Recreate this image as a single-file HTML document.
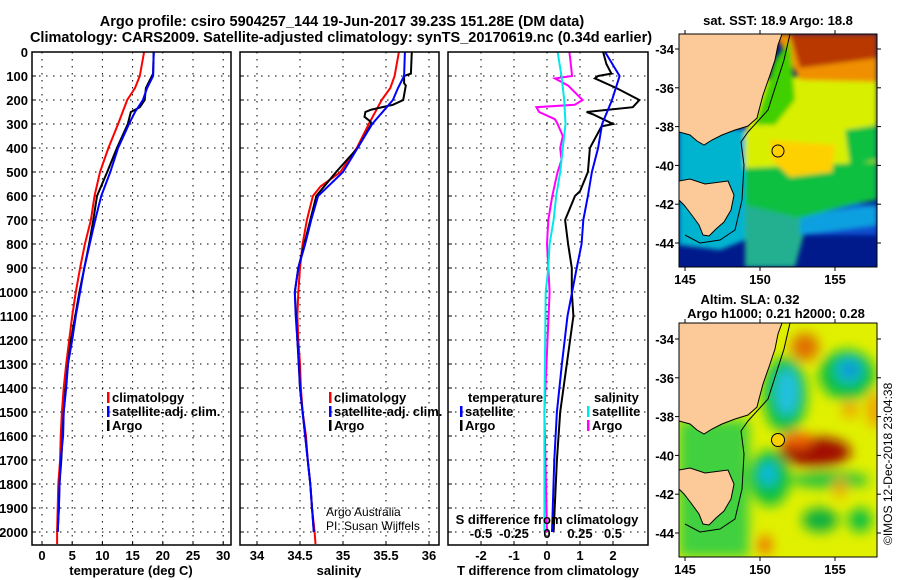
<!DOCTYPE html>
<html><head><meta charset="utf-8">
<style>
html,body{margin:0;padding:0;background:#fff;width:900px;height:580px;overflow:hidden}
svg text{font-family:"Liberation Sans",sans-serif;font-weight:bold;font-size:13px;fill:#000}
.t{font-size:14px}
.thin{font-weight:normal}
</style></head><body>
<svg id="chart" width="900" height="580" viewBox="0 0 900 580" xmlns="http://www.w3.org/2000/svg">
<defs>
<clipPath id="c1"><rect x="32" y="52" width="199" height="493"/></clipPath>
<clipPath id="c2"><rect x="240" y="52" width="199" height="493"/></clipPath>
<clipPath id="c3"><rect x="448" y="52" width="200" height="493"/></clipPath>
<clipPath id="m1"><rect x="679" y="34" width="198" height="233"/></clipPath>
<clipPath id="m2"><rect x="679" y="323" width="198" height="234"/></clipPath>
<filter id="bl" x="-50%" y="-50%" width="200%" height="200%"><feGaussianBlur stdDeviation="6"/></filter>
<filter id="bl2" x="-20%" y="-20%" width="140%" height="140%"><feGaussianBlur stdDeviation="2.5"/></filter>
</defs>
<text class="t" x="342" y="26" text-anchor="middle" style="font-size:14.5px">Argo profile: csiro 5904257_144 19-Jun-2017 39.23S 151.28E (DM data)</text>
<text class="t" x="341" y="42" text-anchor="middle" style="font-size:14.5px">Climatology: CARS2009. Satellite-adjusted climatology: synTS_20170619.nc (0.34d earlier)</text>
<g id="grids"></g>
<g id="series"></g>
<g id="axes"></g>

<!-- SST map -->
<text x="778" y="25" text-anchor="middle">sat. SST: 18.9 Argo: 18.8</text>
<g clip-path="url(#m1)">
<rect x="679" y="34" width="198" height="233" fill="#001a8c"/>
<g filter="url(#bl2)">
<polygon points="679,195 877,205 877,235 679,235" fill="#0a50d0"/>
<polygon points="679,125 748,130 745,240 720,250 679,245" fill="#00b4d0"/>
<polygon points="745,195 800,212 805,230 795,267 745,267" fill="#20b090"/>
<polygon points="800,215 877,205 877,225 800,235" fill="#10a0e0"/>
<polygon points="745,165 877,160 877,200 850,205 800,218 745,205" fill="#10c040"/>
<polygon points="755,80 877,70 877,162 745,168 745,135" fill="#d8f000"/>
<polygon points="770,140 835,145 832,172 790,177 772,160" fill="#ffd000"/>
<polygon points="775,34 877,34 877,82 800,80" fill="#f09000"/>
<polygon points="790,34 877,34 877,58 800,68" fill="#b83800"/>
<polygon points="775,60 790,40 795,100 775,125 755,125" fill="#40d000"/>
<polygon points="845,130 877,125 877,160 850,165" fill="#10c040"/>
</g>
<polygon points="679,34 782,34 778,45 775,60 770,75 763,95 759,110 757,118 748,126 735,130 722,135 712,140 704,145 697,141 690,135 679,132" fill="#fcca98" stroke="#000" stroke-width="1"/>
<polygon points="679,181 690,179 705,184 728,181 734,195 731,210 724,222 716,229 709,236 703,235 699,225 691,214 684,205 679,200" fill="#fcca98" stroke="#000" stroke-width="1"/>
<path d="M790,34 L784,60 L776,85 L768,110 L748,132 L741,142 L744,165 L742,200 L735,230 L720,240 L700,243 L685,235" fill="none" stroke="#000" stroke-width="1"/>
<circle cx="778" cy="151" r="6" fill="none" stroke="#000" stroke-width="1"/>
</g>
<rect x="679" y="34" width="198" height="233" fill="none" stroke="#000"/>
<g id="map1ticks"></g>

<!-- SLA map -->
<text x="750" y="304" text-anchor="middle">Altim. SLA: 0.32</text>
<text x="776" y="318" text-anchor="middle">Argo h1000: 0.21 h2000: 0.28</text>
<g clip-path="url(#m2)">
<rect x="679" y="323" width="198" height="234" fill="#e0f000"/>
<g filter="url(#bl)">
<ellipse cx="805" cy="347" rx="14" ry="14" fill="#e07000"/>
<ellipse cx="785" cy="395" rx="22" ry="38" fill="#10c040"/>
<ellipse cx="787" cy="392" rx="12" ry="24" fill="#20c0e0"/>
<ellipse cx="847" cy="375" rx="28" ry="25" fill="#10c040"/>
<ellipse cx="849" cy="370" rx="13" ry="13" fill="#10b8e0"/>
<ellipse cx="850" cy="370" rx="5" ry="5" fill="#1040c0"/>
<ellipse cx="815" cy="452" rx="36" ry="15" fill="#a00800"/>
<ellipse cx="797" cy="440" rx="16" ry="8" fill="#f06000"/>
<ellipse cx="770" cy="478" rx="20" ry="28" fill="#10c040"/>
<ellipse cx="768" cy="474" rx="9" ry="12" fill="#10b8e0"/>
<ellipse cx="830" cy="480" rx="40" ry="8" fill="#20c040"/>
<ellipse cx="820" cy="520" rx="18" ry="12" fill="#10b040"/>
<ellipse cx="860" cy="520" rx="12" ry="12" fill="#10c040"/>
<ellipse cx="765" cy="545" rx="7" ry="10" fill="#f07000"/>
<rect x="679" y="420" width="70" height="137" fill="#40d040"/>
<ellipse cx="850" cy="410" rx="8" ry="8" fill="#f0a000"/>
<ellipse cx="840" cy="488" rx="6" ry="10" fill="#f0a000"/>
<ellipse cx="875" cy="410" rx="8" ry="18" fill="#f0a000"/>
</g>
<polygon points="679,323 782,323 778,334 775,349 770,364 763,384 759,399 757,407 748,415 735,419 722,424 712,429 704,434 697,430 690,424 679,421" fill="#fcca98" stroke="#000" stroke-width="1"/>
<polygon points="679,470 690,468 705,473 728,470 734,484 731,499 724,511 716,518 709,525 703,524 699,514 691,503 684,494 679,489" fill="#fcca98" stroke="#000" stroke-width="1"/>
<path d="M790,323 L784,349 L776,374 L768,399 L748,421 L741,431 L744,454 L742,489 L735,519 L720,529 L700,532 L685,524" fill="none" stroke="#000" stroke-width="1"/>
<circle cx="778" cy="440" r="6.5" fill="#f8d000" stroke="#000" stroke-width="1"/>
</g>
<rect x="679" y="323" width="198" height="234" fill="none" stroke="#000"/>
<g id="map2ticks"></g>
<text class="thin" x="892" y="545" transform="rotate(-90 892 545)" style="font-size:12px">©IMOS 12-Dec-2018 23:04:38</text>
</svg>
<script>
// ---- data ----
const tClimDepth = [0,100,150,200,300,400,500,600,700,800,900,1000,1100,1200,1300,1400,1500,1600,1700,1800,1900,2000,2050];
const tClim      = [16.9,16.2,15.4,14.1,12.6,11.0,9.6,8.7,8.1,7.1,6.3,5.6,5.0,4.5,4.0,3.6,3.3,3.1,3.0,2.7,2.6,2.5,2.5];
const tSatDepth  = [0,100,150,200,250,300,400,500,600,700,800,900,1000,1100,1200,1300,1400,1500,1600,1700,1800,1900,2000];
const tSat       = [18.5,18.4,17.4,16.7,15.4,14.4,12.6,11.3,9.8,8.8,7.9,7.0,6.3,5.6,5.0,4.3,4.0,3.6,3.5,3.1,2.9,2.8,2.6];
const tArgoDepth = [0,90,100,150,200,230,250,300,400,500,600,700,800,900,1000,1100,1200,1300,1400,1500,1600,1700,1800,1900,2000];
const tArgo      = [18.5,18.4,18.2,17.2,17.0,16.2,14.7,14.2,12.4,10.8,9.1,8.5,7.8,7.0,6.2,5.5,4.8,4.3,3.9,3.6,3.4,3.2,2.9,2.8,2.6];

const sClimDepth = [0,100,150,200,300,400,500,560,600,700,800,900,1000,1100,1200,1300,1400,1500,1600,1700,1800,1900,2000,2050];
const sClim      = [35.65,35.60,35.55,35.45,35.30,35.16,34.97,34.74,34.65,34.58,34.53,34.50,34.48,34.47,34.48,34.50,34.51,34.53,34.57,34.59,34.62,34.64,34.67,34.68];
const sSatDepth  = [0,100,150,200,300,400,500,600,700,800,900,1000,1100,1200,1300,1400,1500,1600,1700,1800,1900,2000];
const sSat       = [35.72,35.71,35.64,35.58,35.34,35.17,35.00,34.71,34.63,34.56,34.48,34.44,34.45,34.47,34.49,34.50,34.53,34.56,34.59,34.62,34.64,34.66];
const sArgoDepth = [0,90,100,130,140,200,220,240,250,270,290,300,400,500,600,700,800,900,1000,1200,1400,1600,1800,2000];
const sArgo      = [35.80,35.79,35.71,35.71,35.73,35.70,35.58,35.33,35.26,35.25,35.32,35.33,35.17,34.92,34.69,34.62,34.55,34.48,34.44,34.47,34.50,34.56,34.62,34.66];

const dTSatDepth = [0,100,200,300,400,500,600,700,800,900,1100,1300,1500,1700,2000];
const dTSat      = [1.76,2.2,1.97,1.67,1.55,1.36,1.24,1.10,1.05,0.90,0.62,0.45,0.30,0.22,0.15];
const dTArgoDepth= [0,50,90,100,110,150,200,230,250,260,280,300,310,400,500,580,600,700,800,900,1000,1100,1200,1300,1500,1700,2000];
const dTArgo     = [1.7,1.8,1.95,1.55,1.45,2.1,2.8,2.6,1.2,1.4,1.7,2.0,1.65,1.3,1.24,1.0,0.85,0.55,0.64,0.75,0.75,0.8,0.7,0.6,0.4,0.3,0.2];
const dSSatDepth = [0,100,200,300,400,500,600,700,800,900,1000,1500,2000];
const dSSat      = [0.08,0.11,0.13,0.14,0.12,0.10,0.07,0.05,0.02,0.01,-0.01,-0.02,-0.02];
const dSArgoDepth= [0,50,100,110,140,200,220,230,250,280,300,350,400,450,500,550,600,700,800,900,1000,1500,2000];
const dSArgo     = [0.17,0.18,0.19,0.06,0.16,0.27,0.21,-0.08,-0.06,0.06,0.08,0.12,0.10,0.11,0.08,0.06,0.04,0.01,0.0,0.01,0.02,-0.02,0.0];

const depthTicks = [0,100,200,300,400,500,600,700,800,900,1000,1100,1200,1300,1400,1500,1600,1700,1800,1900,2000];
const tTicks = [0,5,10,15,20,25,30];
const sTicks = [34,34.5,35,35.5,36];
const dTTicks = [-2,-1,0,1,2];
const dSTicks = [-0.5,-0.25,0,0.25,0.5];
const lonTicks = [145,150,155];
const latTicks = [-34,-36,-38,-40,-42,-44];

// ---- scales ----
const yD = d => 52 + d*0.24;
const xT = t => 42 + t*6.04;
const xS = s => 257 + (s-34)*86;
const xDT = v => 547 + v*33;
const xDS = v => 547 + v*132;
const xLon = l => 685 + (l-145)*15;
const yLat1 = l => 49 + (-34-l)*19.4;
const yLat2 = l => 339 + (-34-l)*19.4;

const NS='http://www.w3.org/2000/svg';
function mk(tag, attrs, parent, txt){const e=document.createElementNS(NS,tag);for(const k in attrs)e.setAttribute(k,attrs[k]);if(txt!==undefined)e.textContent=txt;parent.appendChild(e);return e;}
const G=document.getElementById('grids'), S=document.getElementById('series'), A=document.getElementById('axes');

const panels=[{x0:32,x1:231,ticks:tTicks,sx:xT,clip:'c1',name:'temperature-panel'},
              {x0:240,x1:439,ticks:sTicks,sx:xS,clip:'c2',name:'salinity-panel'},
              {x0:448,x1:648,ticks:dTTicks,sx:xDT,clip:'c3',name:'difference-panel'}];
panels.forEach((p,i)=>{
  depthTicks.forEach(d=>{
    const l=mk('line',{x1:p.x0,x2:p.x1,y1:yD(d),y2:yD(d),stroke:'#000','stroke-width':1,'stroke-dasharray':'1.5,5.5'},G);
    
    
    mk('line',{x1:p.x0,x2:p.x0+4,y1:yD(d),y2:yD(d),stroke:'#000'},A);
  });
  p.ticks.forEach(t=>{
    const l=mk('line',{x1:p.sx(t),x2:p.sx(t),y1:52,y2:545,stroke:'#000','stroke-width':1,'stroke-dasharray':'1.5,5.5'},G);
    
    
    mk('line',{x1:p.sx(t),x2:p.sx(t),y1:545,y2:541,stroke:'#000'},A);
    const tx=mk('text',{x:p.sx(t),y:560,'text-anchor':'middle'},A,String(t));
    
    
  });
  const r=mk('rect',{x:p.x0,y:52,width:p.x1-p.x0,height:493,fill:'none',stroke:'#000','stroke-width':1.5},A);
  
  
});
depthTicks.forEach(d=>{
  const tx=mk('text',{x:28,y:yD(d)+5,'text-anchor':'end'},A,String(d));
  
  
});
dSTicks.forEach(v=>{
  const tx=mk('text',{x:xDS(v),y:538,'text-anchor':'middle'},A,String(v));
  
  
});
[['temperature (deg C)',131,'x-axis-title-temperature'],['salinity',339,'x-axis-title-salinity'],['T difference from climatology',548,'x-axis-title-t-difference']].forEach(a=>{
  const tx=mk('text',{x:a[1],y:575,'text-anchor':'middle'},A,a[0]);
  
  
});
const sdt=mk('text',{x:547,y:524,'text-anchor':'middle'},A,'S difference from climatology');



function line(depths, vals, sx, color, clip, name, w){
  const pts=depths.map((d,i)=>sx(vals[i]).toFixed(1)+','+yD(d).toFixed(1)).join(' ');
  const pl=mk('polyline',{points:pts,fill:'none',stroke:color,'stroke-width':w||2,'clip-path':'url(#'+clip+')'},S);
  
  
}
line(tClimDepth,tClim,xT,'#ff0000','c1','temperature-climatology-line');
line(tArgoDepth,tArgo,xT,'#000000','c1','temperature-argo-line');
line(tSatDepth,tSat,xT,'#0000ff','c1','temperature-satellite-line');
line(sClimDepth,sClim,xS,'#ff0000','c2','salinity-climatology-line');
line(sArgoDepth,sArgo,xS,'#000000','c2','salinity-argo-line');
line(sSatDepth,sSat,xS,'#0000ff','c2','salinity-satellite-line');
line(dTArgoDepth,dTArgo,xDT,'#000000','c3','t-diff-argo-line');
line(dTSatDepth,dTSat,xDT,'#0000ff','c3','t-diff-satellite-line');
line(dSArgoDepth,dSArgo,xDS,'#ff00ff','c3','s-diff-argo-line');
line(dSSatDepth,dSSat,xDS,'#00e8e8','c3','s-diff-satellite-line');

function legend(x,y,items,name){
  items.forEach((it,i)=>{
    const yy=y+i*14;
    if(it[1]) mk('rect',{x:x,y:yy-10,width:2.5,height:11,fill:it[1]},A);
    const tx=mk('text',{x:x+5,y:yy},A,it[0]);
    
    
  });
}
legend(107,402,[['climatology','#ff0000'],['satellite-adj. clim.','#0000ff'],['Argo','#000']],'temperature-legend');
legend(329,402,[['climatology','#ff0000'],['satellite-adj. clim.','#0000ff'],['Argo','#000']],'salinity-legend');
const lt=mk('text',{x:468,y:402},A,'temperature');  
legend(460,416,[['satellite','#0000ff'],['Argo','#000']],'t-diff-legend');
const ls=mk('text',{x:594,y:402},A,'salinity');  
legend(587,416,[['satellite','#00e8e8'],['Argo','#ff00ff']],'s-diff-legend');
const c1=mk('text',{x:326,y:516,class:'thin'},A,'Argo Australia');  
c1.style.fontSize='12px';
const c2=mk('text',{x:326,y:530,class:'thin'},A,'PI: Susan Wijffels');  
c2.style.fontSize='12px';

function mapTicks(gid,y0,y1,yLat){
  const g=document.getElementById(gid);
  lonTicks.forEach(l=>{
    mk('line',{x1:xLon(l),x2:xLon(l),y1:y0,y2:y0-4,stroke:'#000'},g);
    mk('line',{x1:xLon(l),x2:xLon(l),y1:y1,y2:y1+4,stroke:'#000'},g);
    const tx=mk('text',{x:xLon(l),y:y1+17,'text-anchor':'middle'},g,String(l));
    
    
  });
  latTicks.forEach(l=>{
    mk('line',{x1:675,x2:679,y1:yLat(l),y2:yLat(l),stroke:'#000'},g);
    mk('line',{x1:877,x2:881,y1:yLat(l),y2:yLat(l),stroke:'#000'},g);
    const tx=mk('text',{x:674,y:yLat(l)+5,'text-anchor':'end'},g,String(l));
    
    
  });
}
mapTicks('map1ticks',34,267,yLat1);
mapTicks('map2ticks',323,557,yLat2);
</script>
</body></html>
